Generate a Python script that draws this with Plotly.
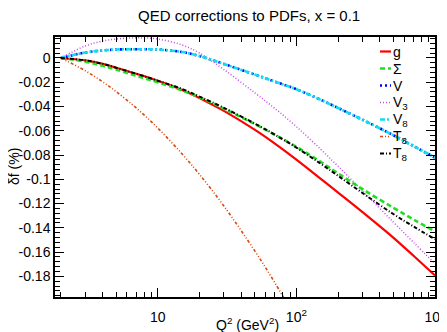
import plotly.graph_objects as go

q2 = [2, 3, 4, 5, 7, 10, 15, 20, 30, 50, 70, 100, 150, 200, 300, 500, 700, 1000]

g_vals = [0, -0.0020, -0.0048, -0.0080, -0.0130, -0.0187, -0.0263, -0.0329, -0.0436,
          -0.0591, -0.0706, -0.0838, -0.0996, -0.1109, -0.127, -0.148, -0.163, -0.1792]
sigma_vals = [0, -0.0030, -0.0064, -0.0095, -0.0147, -0.0200, -0.0268, -0.0323, -0.0417,
              -0.0544, -0.0633, -0.0732, -0.0857, -0.0951, -0.1081, -0.1234, -0.1331, -0.1430]
v_vals = [0, 0.0045, 0.0062, 0.0070, 0.0072, 0.0070, 0.0049, 0.0016, -0.0049,
          -0.0136, -0.0195, -0.0257, -0.0345, -0.0412, -0.0509, -0.0636, -0.0726, -0.0821]
v3_vals = [0, 0.0099, 0.0140, 0.0156, 0.0166, 0.0156, 0.0107, 0.0041, -0.0095,
           -0.0286, -0.0416, -0.0565, -0.0753, -0.0893, -0.1095, -0.1352, -0.152, -0.1695]
v8_vals = [0, 0.0045, 0.0062, 0.0070, 0.0072, 0.0070, 0.0049, 0.0016, -0.0049,
           -0.0136, -0.0195, -0.0257, -0.0345, -0.0412, -0.0509, -0.0636, -0.0726, -0.0821]
t3_q2 = [2, 3, 4, 5, 7, 10, 15, 20, 30, 50, 70, 100]
t3_vals = [0, -0.0105, -0.0196, -0.0276, -0.0412, -0.0577, -0.0791, -0.0959, -0.122,
           -0.1588, -0.1853, -0.2156]
t8_vals = [0, -0.0020, -0.0048, -0.0080, -0.0130, -0.0187, -0.0255, -0.0318, -0.0411,
           -0.0540, -0.0632, -0.0738, -0.0872, -0.0971, -0.1113, -0.1286, -0.1389, -0.1494]

y_ticks = [0, -0.02, -0.04, -0.06, -0.08, -0.1, -0.12, -0.14, -0.16, -0.18]
y_ticktext = ["0", "-0.02", "-0.04", "-0.06", "-0.08", "-0.1", "-0.12", "-0.14", "-0.16", "-0.18"]
x_ticks = [10, 100, 1000]
x_ticktext = ["10", "10<sup>2</sup>", "10<sup>3</sup>"]

series_names = ["g", "Σ", "V", "V<sub>3</sub>", "V<sub>8</sub>", "T<sub>3</sub>", "T<sub>8</sub>"]
series_x = [q2, q2, q2, q2, q2, t3_q2, q2]
series_y = [g_vals, sigma_vals, v_vals, v3_vals, v8_vals, t3_vals, t8_vals]
colors = ["#ff0000", "#22dd22", "#0000ff", "#cc44ee", "#11ddee", "#d9480f", "#000000"]
dashes = ["solid", "5px,3px", "2px,3px", "1px,2px", "5px,2px,2px,2px",
          "3px,2px,1px,2px,1px,2px", "4px,2px,1px,2px"]
widths = [2.2, 2.6, 2.6, 1.5, 2.6, 1.6, 2.0]

fig = go.Figure()
for name, xs, ys, col, dash, w in zip(series_names, series_x, series_y, colors, dashes, widths):
    fig.add_trace(go.Scatter(x=xs, y=ys, mode="lines", name=name, showlegend=False,
                             line=dict(color=col, dash=dash, width=w, shape="spline")))

FONT = "Liberation Sans, Arial, sans-serif"
minor_x = [v * m for m in (1, 10, 100) for v in range(2, 10)]

# target plot area in page pixels; the page body has an 8px margin
PL, PR, PT, PB = 55, 435, 37, 297
OFF = 8
W, H = 447, 332


def px_x(p):
    return (p - PL) / (PR - PL)


def px_y(p):
    return (PB - p) / (PB - PT)


shapes = []
annotations = [
    dict(text="δf (%)", xref="paper", yref="paper", x=px_x(14), y=0.5,
         xanchor="center", yanchor="middle", textangle=-90, showarrow=False,
         font=dict(size=14)),
    dict(text="Q<sup>2</sup> (GeV<sup>2</sup>)", xref="paper", yref="paper",
         x=px_x(247.5), y=px_y(324), xanchor="center", yanchor="middle", showarrow=False,
         font=dict(size=14)),
    dict(text="QED corrections to PDFs, x = 0.1", xref="paper", yref="paper",
         x=px_x(249), y=px_y(15), xanchor="center", yanchor="middle", showarrow=False,
         font=dict(size=15)),
]
for i, (name, col, dash, w) in enumerate(zip(series_names, colors, dashes, widths)):
    row = 51.5 + 17 * i
    shapes.append(dict(type="line", xref="paper", yref="paper",
                       x0=px_x(380), x1=px_x(391), y0=px_y(row), y1=px_y(row),
                       line=dict(color=col, dash=dash, width=w)))
    annotations.append(dict(text=name, xref="paper", yref="paper", x=px_x(391),
                            y=px_y(row), xanchor="left", yanchor="middle",
                            showarrow=False, font=dict(size=14)))

fig.update_layout(
    template="none",
    width=W, height=H,
    margin=dict(l=PL - OFF, r=W - (PR - OFF), t=PT - OFF, b=H - (PB - OFF),
                pad=0, autoexpand=False),
    paper_bgcolor="white", plot_bgcolor="white",
    font=dict(family=FONT, size=14, color="black"),
    showlegend=False,
    xaxis=dict(type="log", range=[0.259, 3.0], tickvals=x_ticks, ticktext=x_ticktext,
               ticks="inside", ticklen=9, tickwidth=1, tickcolor="black",
               showline=True, linecolor="black", linewidth=1.5, mirror="ticks",
               showgrid=False, zeroline=False, automargin=False, ticklabelstandoff=6,
               minor=dict(tickvals=minor_x, ticks="inside", ticklen=5,
                          tickcolor="black", showgrid=False)),
    yaxis=dict(range=[-0.197, 0.0173], tickvals=y_ticks, ticktext=y_ticktext,
               ticks="inside", ticklen=9, tickwidth=1, tickcolor="black",
               showline=True, linecolor="black", linewidth=1.5, mirror="ticks",
               showgrid=False, zeroline=False, automargin=False,
               minor=dict(dtick=0.004, tick0=0, ticks="inside", ticklen=5,
                          tickcolor="black", showgrid=False)),
    shapes=shapes,
    annotations=annotations,
)

fig.write_html("out.html")
